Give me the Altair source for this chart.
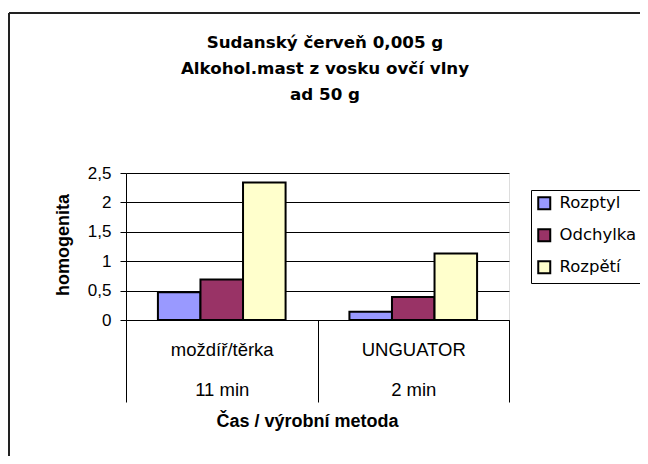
import altair as alt
import pandas as pd

# ---- data ----
methods = ["moždíř/těrka", "UNGUATOR"]
times = ["11 min", "2 min"]
series = ["Rozptyl", "Odchylka", "Rozpětí"]
rozptyl = [0.47, 0.14]
odchylka = [0.69, 0.39]
rozpeti = [2.34, 1.13]
colors = ["#9999FF", "#993366", "#FFFFCC"]
title_lines = ["Sudanský červeň 0,005 g", "Alkohol.mast z vosku ovčí vlny", "ad 50 g"]
y_ticks = [0, 0.5, 1, 1.5, 2, 2.5]

groups = [m + "|" + t for m, t in zip(methods, times)]
rows = []
for i, g in enumerate(groups):
    for s, vals in zip(series, [rozptyl, odchylka, rozpeti]):
        rows.append({"skupina": g, "rada": s, "hodnota": vals[i]})
df = pd.DataFrame(rows)

FONT = "DejaVu Sans"

bars = alt.Chart(df).mark_bar(stroke="black", strokeWidth=2).encode(
    x=alt.X(
        "skupina:N",
        sort=groups,
        scale=alt.Scale(paddingInner=0, paddingOuter=0),
        axis=alt.Axis(
            title="Čas / výrobní metoda",
            labelExpr="split(datum.label, '|')",
            labelAngle=0,
            tickBand="extent",
            tickSize=82,
            tickColor="black",
            domainColor="black",
            labelBaseline="alphabetic",
            labelPadding=-47,
            labelLineHeight=40,
            labelFontSize=18.5,
            titleFontSize=18,
            titleX=181,
            titleY=106,
            titleBaseline="alphabetic",
            titleAlign="center",
            grid=False,
        ),
    ),
    xOffset=alt.XOffset(
        "rada:N", sort=series, scale=alt.Scale(paddingInner=0, paddingOuter=0.75)
    ),
    y=alt.Y(
        "hodnota:Q",
        scale=alt.Scale(domain=[0, 2.5], nice=False),
        axis=alt.Axis(
            title="homogenita",
            values=y_ticks,
            format=".1~f",
            labelExpr="replace(datum.label, '.', ',')",
            tickSize=6,
            labelPadding=9,
            labelFontSize=17,
            titleFontSize=18,
            titleX=-62.5,
            titleY=71.5,
            titleBaseline="middle",
            titleAngle=270,
            grid=True,
            gridColor="black",
            gridWidth=1,
            domainColor="black",
            tickColor="black",
        ),
    ),
    color=alt.Color(
        "rada:N",
        sort=series,
        scale=alt.Scale(domain=series, range=colors),
        legend=alt.Legend(
            title=None,
            orient="none",
            legendX=405,
            legendY=17,
            symbolType="square",
            symbolSize=144,
            symbolStrokeColor="black",
            symbolStrokeWidth=2,
            labelFont=FONT,
            labelFontSize=16.5,
            labelColor="black",
            labelOffset=7,
            labelLimit=300,
            padding=5,
            rowPadding=11,
            strokeColor="black",
            fillColor="white",
        ),
    ),
)

title_text = alt.Chart(alt.Data(values=[{"k": 1}])).mark_text(
    font=FONT,
    fontSize=16.7,
    fontWeight="bold",
    lineHeight=26,
    align="center",
    baseline="alphabetic",
    color="black",
).encode(x=alt.value(199), y=alt.value(-125), text=alt.value(title_lines))

frame_data = alt.Data(values=[{"k": 1}])
border_top = alt.Chart(frame_data).mark_rule(color="#222222", strokeWidth=2).encode(
    x=alt.value(-117), x2=alt.value(514), y=alt.value(-160)
)
border_left = alt.Chart(frame_data).mark_rule(color="#222222", strokeWidth=2).encode(
    x=alt.value(-117), y=alt.value(-160), y2=alt.value(300)
)

chart = (
    alt.layer(bars, title_text, border_top, border_left)
    .properties(
        width=383,
        height=147,
        autosize=alt.AutoSizeParams(type="none"),
        padding={"left": 118, "top": 165, "right": 131, "bottom": 136},
    )
    .configure_view(fill="#C0C0C0", stroke="#808080", strokeWidth=1)
    .configure_axis(
        labelFont=FONT,
        titleFont=FONT,
        labelColor="black",
        titleColor="black",
        titleFontWeight="bold",
    )
    .configure(background="white")
)

chart.save("out.html", embed_options={"renderer": "svg", "actions": False})
